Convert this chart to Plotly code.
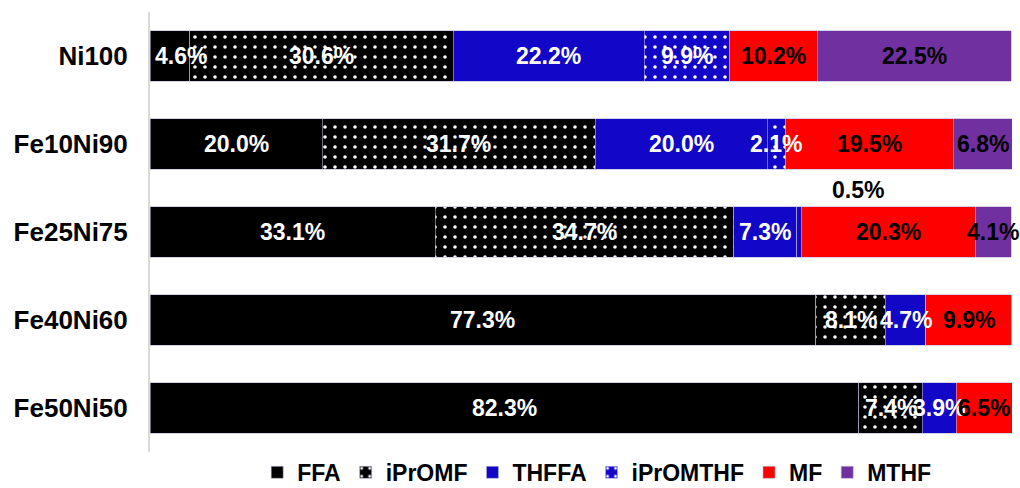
import plotly.graph_objects as go

categories = ["Ni100", "Fe10Ni90", "Fe25Ni75", "Fe40Ni60", "Fe50Ni50"]
series_names = ["FFA", "iPrOMF", "THFFA", "iPrOMTHF", "MF", "MTHF"]
ffa = [4.6, 20.0, 33.1, 77.3, 82.3]
iprmf = [30.6, 31.7, 34.7, 8.1, 7.4]
thffa = [22.2, 20.0, 7.3, 4.7, 3.9]
iprmthf = [9.9, 2.1, 0.5, 0.0, 0.0]
mf = [10.2, 19.5, 20.3, 9.9, 6.5]
mthf = [22.5, 6.8, 4.1, 0.0, 0.0]
# labels drawn outside (above) the bar instead of inside
outside_label = {("iPrOMTHF", "Fe25Ni75")}

values = [ffa, iprmf, thffa, iprmthf, mf, mthf]
colors = ["#000000", "#000000", "#1207C6", "#1207C6", "#FF0000", "#7030A0"]
patterned = [False, True, False, True, False, False]
text_colors = ["white", "white", "white", "white", "black", "black"]

FONT = "Liberation Sans, Arial, sans-serif"

fig = go.Figure()
for name, vals, col, pat in zip(series_names, values, colors, patterned):
    marker = dict(color=col, line=dict(width=0.6, color="#b8b0d8"))
    if pat:
        marker["pattern"] = dict(shape=".", fgcolor="white", bgcolor=col,
                                 size=10, solidity=0.1, fillmode="replace")
    fig.add_trace(go.Bar(
        y=categories, x=vals, name=name, orientation="h",
        marker=marker, hoverinfo="skip",
    ))

# value labels (drawn on top of all bars, like the reference)
annotations = []
for si, (sname, vals, tcol) in enumerate(zip(series_names, values, text_colors)):
    for ci, (cat, v) in enumerate(zip(categories, vals)):
        if v <= 0:
            continue
        start = sum(values[k][ci] for k in range(si))
        outside = (sname, cat) in outside_label
        xs, ys = 0, 0
        if outside:
            xs, ys = 59, 42
        elif start == 0 and v < 8:
            xs = 11  # keep a narrow first label clear of the axis line
        annotations.append(dict(
            x=start + v / 2, y=cat, text=f"{v:.1f}%", showarrow=False,
            xshift=xs, yshift=ys,
            font=dict(family=FONT, size=23, color="black" if outside else tcol,
                      weight="bold"),
        ))

fig.update_layout(
    barmode="stack",
    bargap=0.43,
    width=1020, height=488,
    margin=dict(l=150, r=8, t=12, b=36, autoexpand=False),
    plot_bgcolor="white", paper_bgcolor="white",
    font=dict(family=FONT, color="black"),
    showlegend=True,
    legend=dict(orientation="h", x=0.585, xref="container", xanchor="center",
                y=0.032, yref="container", yanchor="middle",
                font=dict(family=FONT, size=23, color="black", weight="bold"),
                itemwidth=30, traceorder="normal", tracegroupgap=0),
    annotations=annotations,
)
fig.update_xaxes(range=[0, 100.1], visible=False, showgrid=False, automargin=False)
fig.update_yaxes(categoryorder="array", categoryarray=categories, autorange="reversed",
                 showline=True, linecolor="#d9d9d9", linewidth=2, ticks="",
                 showgrid=False, ticklabelstandoff=15, automargin=False,
                 tickfont=dict(family=FONT, size=26, color="black", weight="bold"))

fig.write_html("out.html", config={"displayModeBar": False},
               post_script="document.body.style.margin='0';document.body.style.overflow='hidden';")
